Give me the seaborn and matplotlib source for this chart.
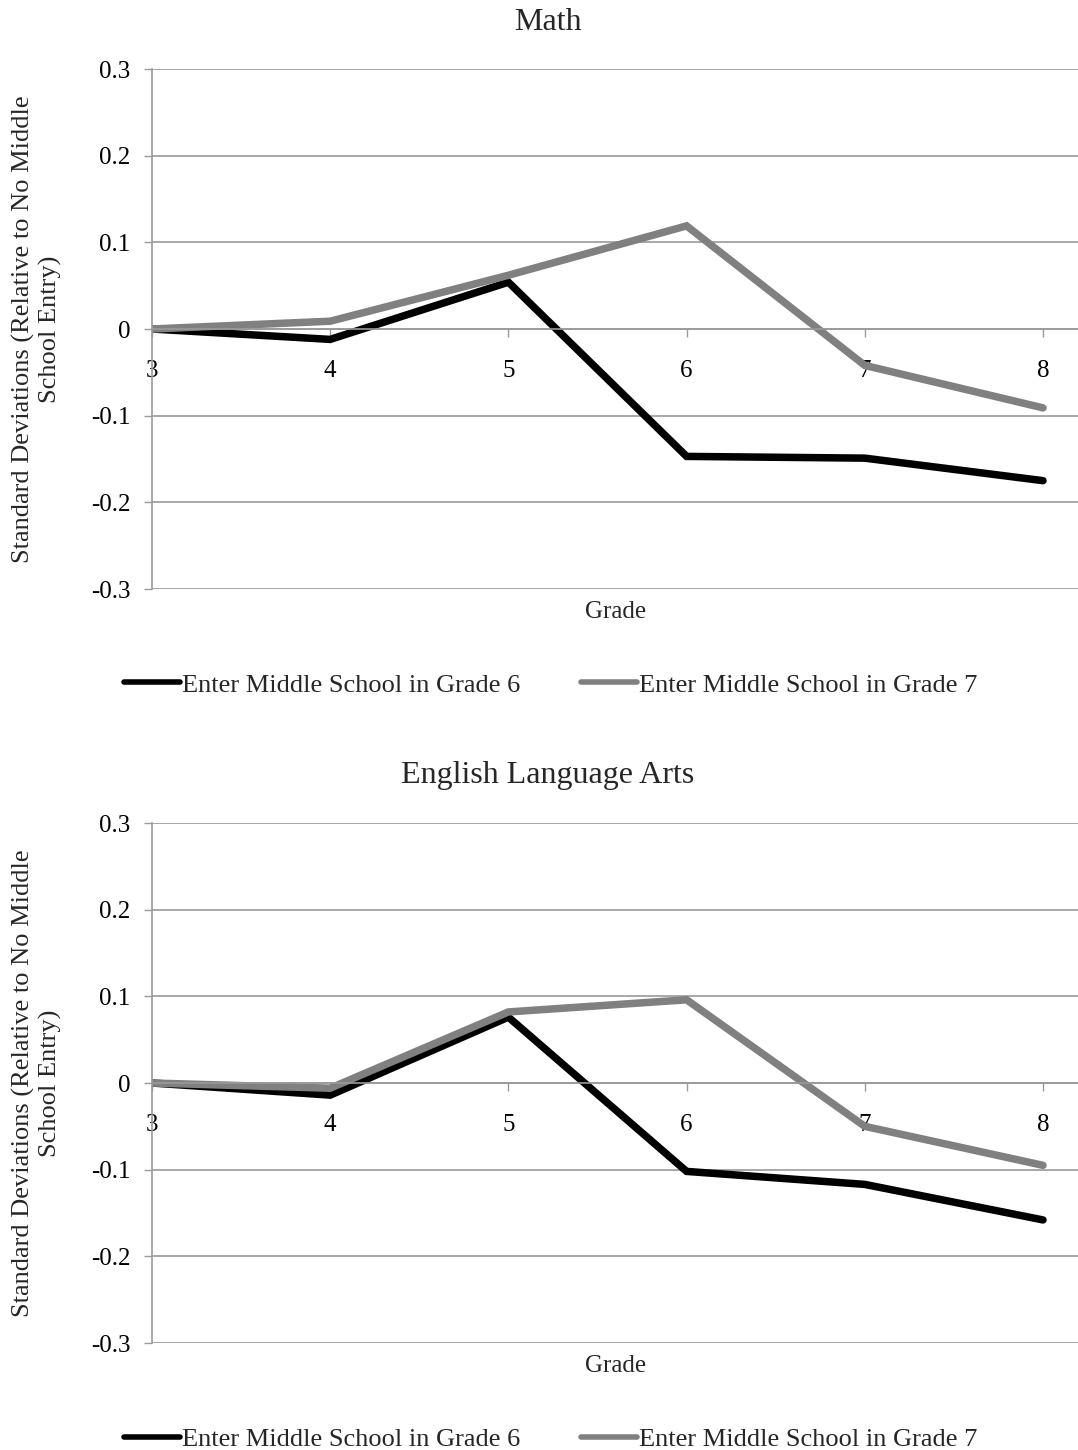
import numpy as np
import pandas as pd
import matplotlib
matplotlib.use("Agg")
import matplotlib.pyplot as plt
import seaborn as sns
from matplotlib.lines import Line2D

# Test-score gaps by grade, relative to students with no middle school entry
grades = [3, 4, 5, 6, 7, 8]
series_names = ["Enter Middle School in Grade 6", "Enter Middle School in Grade 7"]
math_grade6 = [0.0, -0.012, 0.054, -0.147, -0.149, -0.175]
math_grade7 = [0.0, 0.009, 0.062, 0.119, -0.042, -0.091]
ela_grade6 = [0.0, -0.014, 0.076, -0.102, -0.117, -0.158]
ela_grade7 = [0.0, -0.006, 0.082, 0.096, -0.050, -0.095]
panel_titles = ["Math", "English Language Arts"]
y_ticks = [-0.3, -0.2, -0.1, 0.0, 0.1, 0.2, 0.3]
y_tick_labels = ["-0.3", "-0.2", "-0.1", "0", "0.1", "0.2", "0.3"]
x_label = "Grade"
y_label = "Standard Deviations (Relative to No Middle\nSchool Entry)"

sns.set_theme(style="white")
plt.rcParams["font.family"] = ["Liberation Serif", "DejaVu Serif"]

W, H = 1078, 1450
fig = plt.figure(figsize=(W / 100, H / 100), dpi=100)

palette = {series_names[0]: "#000000", series_names[1]: "#808080"}
grid_col = "#9a9a9a"
fs = 18


def long_table(s6, s7):
    return pd.DataFrame({
        "grade": grades * 2,
        "value": s6 + s7,
        "series": [series_names[0]] * len(grades) + [series_names[1]] * len(grades),
    })


def draw_panel(top_px, s6, s7, title):
    bottom_px = top_px + 520
    left_px, right_px = 152, 1078
    ax = fig.add_axes([left_px / W, 1 - bottom_px / H,
                       (right_px - left_px) / W, (bottom_px - top_px) / H])
    # grade-6 series first so the grey grade-7 series sits on top
    sns.lineplot(data=long_table(s6, s7), x="grade", y="value", hue="series",
                 palette=palette, hue_order=series_names, linewidth=5.4,
                 ax=ax, legend=False, sort=False)
    for ln in ax.get_lines():
        ln.set_solid_capstyle("round")
        ln.set_solid_joinstyle("miter")
    ax.set_xlim(3, 3 + (right_px - left_px) / 178.2)
    ax.set_ylim(-0.3, 0.3)
    ax.set_yticks(y_ticks)
    ax.set_yticklabels(y_tick_labels)
    ax.set_xticks(grades)
    ax.set_xticklabels([str(g) for g in grades])
    ax.grid(axis="y", color=grid_col, linewidth=1.2)
    ax.grid(axis="x", visible=False)
    ax.set_axisbelow(True)
    for side in ("top", "right"):
        ax.spines[side].set_visible(False)
    ax.spines["bottom"].set_position(("data", 0))
    ax.spines["bottom"].set_color(grid_col)
    ax.spines["bottom"].set_linewidth(1.2)
    ax.spines["left"].set_color(grid_col)
    ax.spines["left"].set_linewidth(1.2)
    ax.tick_params(axis="y", left=True, length=5.5, width=1.0, color=grid_col,
                   pad=10, labelcolor="black", labelsize=fs)
    ax.tick_params(axis="x", bottom=True, length=5.5, width=1.0, color=grid_col,
                   pad=17, labelcolor="black", labelsize=fs)
    ax.set_xlabel("")
    ax.set_ylabel("")

    # panel title, axis labels
    fig.text(548 / W, 1 - (top_px - 47) / H, title, ha="center", va="center",
             fontsize=23)
    fig.text(616 / W, 1 - (bottom_px + 23) / H, x_label, ha="center",
             va="center", fontsize=fs)
    fig.text(37 / W, 1 - (top_px + 260) / H, y_label, ha="center", va="center",
             rotation=90, multialignment="center", fontsize=19, linespacing=1.2)

    handles = [Line2D([0], [0], color=palette[n], linewidth=4) for n in series_names]
    fig.legend(handles, series_names, loc="center",
               bbox_to_anchor=(551 / W, 1 - (bottom_px + 96) / H),
               ncol=2, frameon=False, fontsize=19, handlelength=2.1,
               handletextpad=0.1, columnspacing=2.3)
    return ax


draw_panel(69, math_grade6, math_grade7, panel_titles[0])
draw_panel(823, ela_grade6, ela_grade7, panel_titles[1])

fig.savefig("out.png", dpi=100, facecolor="white")
